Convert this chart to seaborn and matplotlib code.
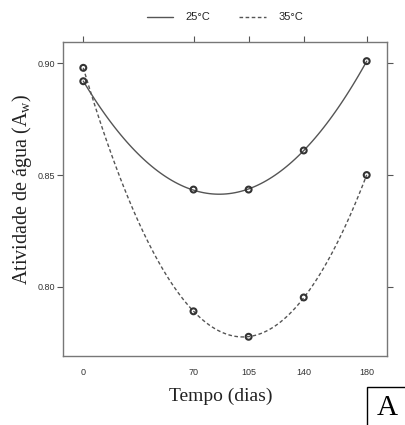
import matplotlib
matplotlib.use("Agg")
import matplotlib.pyplot as plt
from matplotlib.lines import Line2D
from matplotlib.patches import Rectangle
import seaborn as sns
import pandas as pd

# Data
dias = [0, 70, 105, 140, 180]
aw_25 = [0.892, 0.8435, 0.8435, 0.861, 0.901]
aw_35 = [0.898, 0.789, 0.7776, 0.7952, 0.850]
series_labels = ["25°C", "35°C"]
x_ticks = [0, 70, 105, 140, 180]
y_ticks = [0.80, 0.85, 0.90]
y_ticklabels = ["0.80", "0.85", "0.90"]

df = pd.DataFrame({
    "dias": dias * 2,
    "aw": aw_25 + aw_35,
    "temp": [series_labels[0]] * len(dias) + [series_labels[1]] * len(dias),
})

sns.set_theme(style="white")
plt.rcParams["font.family"] = ["Liberation Sans", "DejaVu Sans"]

fig = plt.figure(figsize=(4.05, 4.25), dpi=100)
ax = fig.add_axes([0.1563, 0.1624, 0.7985, 0.7395])

line_color = "#555555"
styles = {series_labels[0]: "-", series_labels[1]: (0, (2.6, 1.8))}

for lab in series_labels:
    sub = df[df["temp"] == lab]
    sns.regplot(data=sub, x="dias", y="aw", order=2, ci=None, scatter=False,
                ax=ax, line_kws=dict(color=line_color, lw=1.0, linestyle=styles[lab]))
sns.scatterplot(data=df, x="dias", y="aw", ax=ax, marker="o", s=18,
                facecolor="none", edgecolor="#333333", linewidth=1.5, zorder=5,
                legend=False)

ax.set_xlim(-12.7, 192.7)
ax.set_ylim(0.769, 0.9097)
ax.set_xticks(x_ticks)
ax.set_xticklabels([str(t) for t in x_ticks])
ax.set_yticks(y_ticks)
ax.set_yticklabels(y_ticklabels)
ax.set_xlabel("")
ax.set_ylabel("")

for s in ax.spines.values():
    s.set_color("#777777")
    s.set_linewidth(1.0)
    s.set_visible(True)

ax.tick_params(axis="both", labelsize=6.5, colors="#555555", labelcolor="#333333")
ax.tick_params(axis="x", bottom=False, top=True, labelbottom=True, labeltop=False,
               direction="out", length=4, width=0.8, pad=5)
ax.tick_params(axis="y", left=True, right=True, labelleft=True, labelright=False,
               direction="out", length=4, width=0.8, pad=2)

# Axis titles (serif)
fig.text(220.5 / 405, 1 - 396 / 425, "Tempo (dias)", ha="center", va="center",
         family="Liberation Serif", fontsize=14, color="#222222")
fig.text(22 / 405, 1 - 189 / 425, "Atividade de água (A$_{\\mathregular{w}}$)",
         ha="center", va="center", rotation=90,
         family="Liberation Serif", fontsize=14.5, color="#222222")

# Legend
handles = [Line2D([0], [0], color=line_color, lw=1.0, linestyle=styles[l]) for l in series_labels]
fig.legend(handles, series_labels, loc="center", bbox_to_anchor=(225 / 405, 1 - 17.5 / 425),
           ncol=2, frameon=False, fontsize=8, handlelength=2.4, handletextpad=1.1,
           columnspacing=2.6)

# Panel label box
fig.patches.append(Rectangle((367 / 405, -0.05), 0.2, (425 - 387) / 425 + 0.05,
                             transform=fig.transFigure, fill=False,
                             edgecolor="black", lw=1.0))
fig.text(387.5 / 405, 1 - 408 / 425, "A", ha="center", va="center",
         family="Liberation Serif", fontsize=21, color="black")

fig.savefig("out.png", dpi=100)
